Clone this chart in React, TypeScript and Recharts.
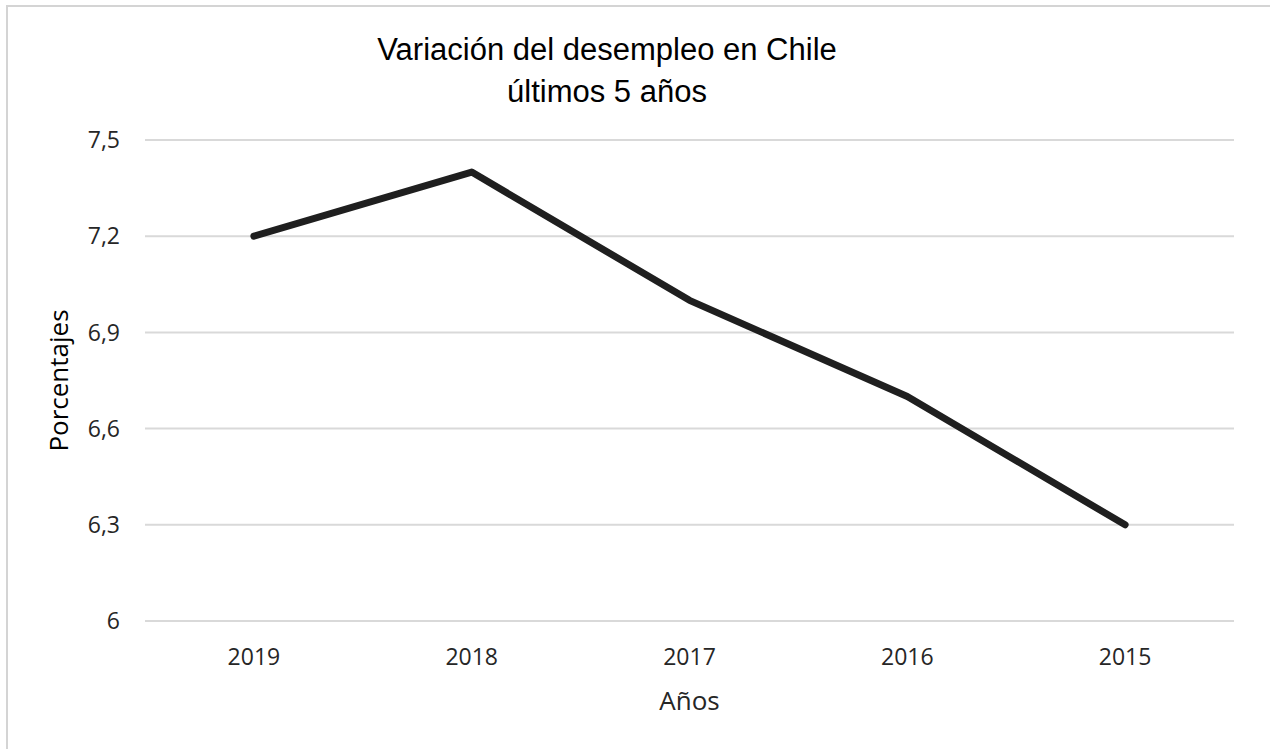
import { LineChart, Line, XAxis, YAxis, CartesianGrid, Label } from 'recharts';

const years = ['2019', '2018', '2017', '2016', '2015'];
const unemployment = [7.2, 7.4, 7.0, 6.7, 6.3];
const yTicks = [6, 6.3, 6.6, 6.9, 7.2, 7.5];

const chartData = years.map((year, i) => ({ year, value: unemployment[i] }));

const tickFont = { fontFamily: 'Open Sans', fontSize: 23, fill: '#262626' };

export default function App() {
  return (
    <div style={{ position: 'absolute', left: 0, top: 0, width: 1270, height: 749, overflow: 'hidden', background: '#fff' }}>
      <div
        style={{
          position: 'absolute',
          left: 6,
          top: 5,
          width: 1280,
          height: 760,
          border: '2px solid #d4d4d4',
        }}
      />
      <div
        style={{
          position: 'absolute',
          left: 0,
          top: 29,
          width: 1214,
          textAlign: 'center',
          fontFamily: 'Liberation Sans',
          fontSize: 31,
          lineHeight: '42px',
          color: '#000',
        }}
      >
        Variación del desempleo en Chile
        <br />
        últimos 5 años
      </div>
      <div style={{ position: 'absolute', left: 0, top: 0 }}>
        <LineChart
          width={1270}
          height={749}
          data={chartData}
          margin={{ top: 140, right: 36, bottom: 0, left: 85 }}
        >
          <CartesianGrid vertical={false} stroke="#d9d9d9" strokeWidth={2} />
          <XAxis
            dataKey="year"
            scale="band"
            axisLine={false}
            tickLine={false}
            tickMargin={22}
            tick={tickFont}
            height={128}
          >
            <Label
              value="Años"
              position="insideTop"
              offset={71}
              style={{ fontFamily: 'Open Sans', fontSize: 26, fill: '#262626' }}
            />
          </XAxis>
          <YAxis
            domain={[6, 7.5]}
            ticks={yTicks}
            width={60}
            axisLine={false}
            tickLine={false}
            tickMargin={19}
            tick={tickFont}
            tickFormatter={(v: number) => String(v).replace('.', ',')}
          >
            <Label
              value="Porcentajes"
              angle={-90}
              position="insideLeft"
              offset={-26}
              style={{ textAnchor: 'middle', fontFamily: 'Open Sans', fontSize: 26, fill: '#000' }}
            />
          </YAxis>
          <Line
            type="linear"
            dataKey="value"
            stroke="#1f1f1f"
            strokeWidth={7}
            strokeLinecap="round"
            strokeLinejoin="round"
            dot={false}
            activeDot={false}
            isAnimationActive={false}
          />
        </LineChart>
      </div>
    </div>
  );
}
